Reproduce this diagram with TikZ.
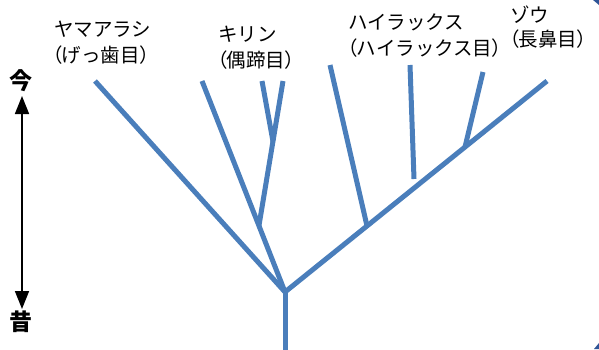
\documentclass[tikz,border=0pt]{standalone}
\usepackage{fontspec}
\setmainfont{Noto Sans CJK JP}
\newfontfamily\paltfont[RawFeature=+palt]{Noto Sans CJK JP}
\usetikzlibrary{calc,arrows.meta}
\definecolor{treeblue}{RGB}{74,126,187}
\definecolor{edgeblue}{RGB}{47,85,151}
\newcommand\lpar{{\paltfont （}}
\newcommand\rpar{{\paltfont ）}}
\tikzset{
  branch/.style={line width=5pt, color=treeblue},
  lbl/.style={inner sep=0pt, anchor=west, text height=0.88em, text depth=0.12em,
    font=\fontsize{19.5pt}{22pt}\selectfont},
  era/.style={inner sep=0pt, text height=0.88em, text depth=0.12em,
    font=\fontsize{23pt}{26pt}\selectfont\bfseries},
  timeline/.style={line width=1.6pt, {Triangle[width=14pt,length=18pt]}-{Triangle[width=14pt,length=18pt]}}
}
\begin{document}
\begin{tikzpicture}[x=1pt, y=-1pt]
  \useasboundingbox (0,0) rectangle (599,349);

  \coordinate (foot) at (285,350);
  \coordinate (base) at (285,292);
  \coordinate (yama) at (95,81);
  \coordinate (kouter) at (202,81);
  \coordinate (kinner) at (283,81);
  \coordinate (kshort) at (262,81);
  \coordinate (hleft) at (330,65);
  \coordinate (hmid) at (410,65);
  \coordinate (hmidend) at (414,179);
  \coordinate (hright) at (483,72);
  \coordinate (zou) at (547,81);
  \coordinate (kfork) at ($(base)!0.314!(kouter)$);
  \coordinate (kshortend) at ($(kfork)!0.583!(kinner)$);
  \coordinate (hfork) at ($(base)!0.313!(zou)$);
  \coordinate (zfork) at ($(base)!0.687!(zou)$);

  \foreach \a/\b in {foot/base, base/yama, base/kouter, kfork/kinner, kshort/kshortend,
                     base/zou, hfork/hleft, hmid/hmidend, zfork/hright}
    \draw[branch] (\a) -- (\b);

  \node[lbl] (yamaname) at (54,33) {ヤマアラシ};
  \node[lbl] (yamaorder) at (52,59) {\lpar げっ歯目\rpar};
  \node[lbl] (kirinname) at (218,38) {キリン};
  \node[lbl] (kirinorder) at (217,64) {\lpar 偶蹄目\rpar};
  \node[lbl] (hyraxname) at (348,26) {ハイラックス};
  \node[lbl] (hyraxorder) at (347,52) {\lpar ハイラックス目\rpar};
  \node[lbl] (zouname) at (510,19) {ゾウ};
  \node[lbl] (zouorder) at (509,43) {\lpar 長鼻目\rpar};

  \node[era] (now) at (21,86) {今};
  \node[era] (past) at (21,327) {昔};
  \coordinate (nowtip) at (22,96);
  \coordinate (pasttip) at (22,309);
  \draw[timeline] (nowtip) -- (pasttip);

  \fill[edgeblue] (593,0) -- (599,0) -- (599,5) -- cycle;
  \fill[edgeblue] (599,343) -- (599,349) -- (594,349) -- cycle;
\end{tikzpicture}
\end{document}
